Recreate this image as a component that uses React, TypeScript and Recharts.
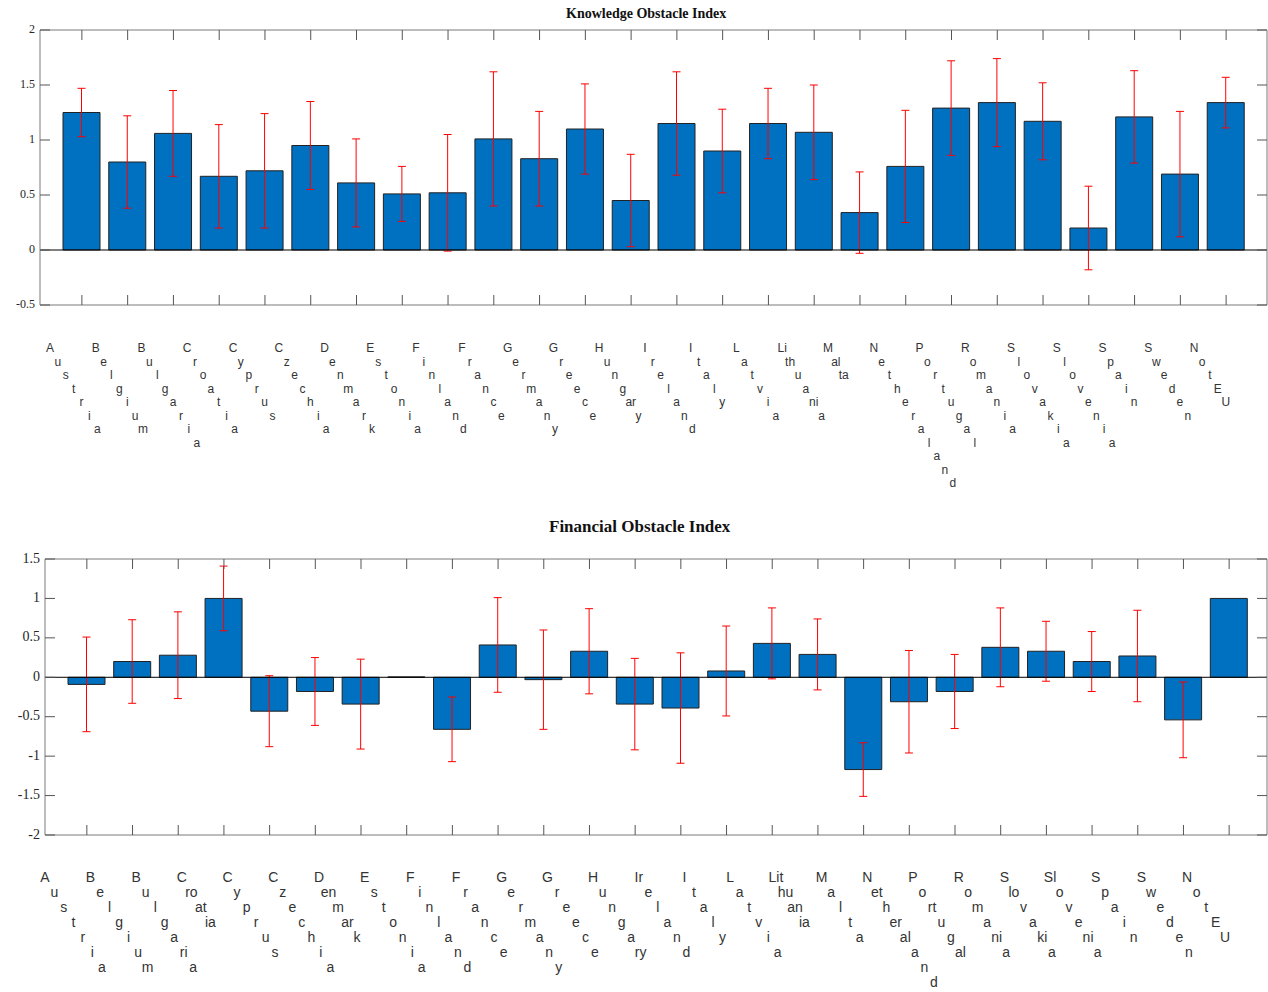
import React from 'react';
import { ComposedChart, Bar, ErrorBar, XAxis, YAxis, ReferenceLine } from 'recharts';

const countries = [
  'Austria', 'Belgium', 'Bulgaria', 'Croatia', 'Cyprus', 'Czechia', 'Denmark', 'Estonia',
  'Finland', 'France', 'Germany', 'Greece', 'Hungary', 'Ireland', 'Italy', 'Latvia',
  'Lithuania', 'Malta', 'Netheraland', 'Portugal', 'Romania', 'Slovakia', 'Slovenia',
  'Spain', 'Sweden', 'NotEU',
];

// how the country names break into diagonal rows in each panel
const knowledgeLabelRows = [
  'A u s t r i a', 'B e l g i u m', 'B u l g a r i a', 'C r o a t i a', 'C y p r u s',
  'C z e c h i a', 'D e n m a r k', 'E s t o n i a', 'F i n l a n d', 'F r a n c e',
  'G e r m a n y', 'G r e e c e', 'H u n g ar y', 'I r e l a n d', 'I t a l y', 'L a t v i a',
  'Li th u a ni a', 'M al ta', 'N e t h e r a l a n d', 'P o r t u g a l', 'R o m a n i a',
  'S l o v a k i a', 'S l o v e n i a', 'S p a i n', 'S w e d e n', 'N o t E U',
];
const financialLabelRows = [
  'A u s t r i a', 'B e l g i u m', 'B u l g a ri a', 'C ro at ia', 'C y p r u s',
  'C z e c h i a', 'D en m ar k', 'E s t o n i a', 'F i n l a n d', 'F r a n c e',
  'G e r m a n y', 'G r e e c e', 'H u n g a ry', 'Ir e l a n d', 'I t a l y', 'L a t v i a',
  'Lit hu an ia', 'M a l t a', 'N et h er al a n d', 'P o rt u g al', 'R o m a ni a',
  'S lo v a ki a', 'Sl o v e ni a', 'S p a i n', 'S w e d e n', 'N o t E U',
];

const knowledgeValues = [
  1.25, 0.8, 1.06, 0.67, 0.72, 0.95, 0.61, 0.51, 0.52, 1.01, 0.83, 1.1, 0.45,
  1.15, 0.9, 1.15, 1.07, 0.34, 0.76, 1.29, 1.34, 1.17, 0.2, 1.21, 0.69, 1.34,
];
const knowledgeErrors = [
  0.22, 0.42, 0.39, 0.47, 0.52, 0.4, 0.4, 0.25, 0.53, 0.61, 0.43, 0.41, 0.42,
  0.47, 0.38, 0.32, 0.43, 0.37, 0.51, 0.43, 0.4, 0.35, 0.38, 0.42, 0.57, 0.23,
];

const financialValues = [
  -0.09, 0.2, 0.28, 1.0, -0.43, -0.18, -0.34, 0.005, -0.66, 0.41, -0.03, 0.33, -0.34,
  -0.39, 0.08, 0.43, 0.29, -1.17, -0.31, -0.18, 0.38, 0.33, 0.2, 0.27, -0.54, 1.0,
];
const financialErrors = [
  0.6, 0.53, 0.55, 0.41, 0.45, 0.43, 0.57, 0.0, 0.41, 0.6, 0.63, 0.54, 0.58,
  0.7, 0.57, 0.45, 0.45, 0.34, 0.65, 0.47, 0.5, 0.38, 0.38, 0.58, 0.48, 0.0,
];

const knowledgeTicks = [-0.5, 0, 0.5, 1, 1.5, 2];
const financialTicks = [-2, -1.5, -1, -0.5, 0, 0.5, 1, 1.5];

const knowledgeData = countries.map((name, i) => ({
  name,
  rows: knowledgeLabelRows[i],
  value: knowledgeValues[i],
  err: knowledgeErrors[i],
}));
const financialData = countries.map((name, i) => ({
  name,
  rows: financialLabelRows[i],
  value: financialValues[i],
  err: financialErrors[i],
}));

const FRAME = '#7a7a7a';
const TICK = '#555';

// diagonal country label (one row per chunk) plus an inward tick mark
function makeXTick(
  data: any[],
  cfg: { startX: number; startY: number; dx: number; dy: number; fontSize: number }
) {
  return (props: any) => {
    const { x, y, payload, index } = props;
    const row = data[index];
    const chunks = (row ? row.rows : String(payload.value)).split(' ');
    return (
      <g>
        <line x1={x} y1={y} x2={x} y2={y - 10} stroke={TICK} strokeWidth={1} />
        {chunks.map((c: string, i: number) => (
          <text
            key={i}
            x={x + cfg.startX + i * cfg.dx}
            y={y + cfg.startY + i * cfg.dy}
            textAnchor="middle"
            dominantBaseline="central"
            fontFamily="'Liberation Sans', Arial, sans-serif"
            fontSize={cfg.fontSize}
            fill="#333"
          >
            {c}
          </text>
        ))}
      </g>
    );
  };
}

const TopTick = (props: any) => {
  const { x, y } = props;
  return <line x1={x} y1={y} x2={x} y2={y + 10} stroke={TICK} strokeWidth={1} />;
};

function makeYTick(fontSize: number) {
  return (props: any) => {
    const { x, y, payload } = props;
    return (
      <g>
        <line x1={x} y1={y} x2={x + 10} y2={y} stroke={TICK} strokeWidth={1} />
        <text
          x={x - 5}
          y={y - 1}
          textAnchor="end"
          dominantBaseline="central"
          fontFamily="'Liberation Serif', 'Times New Roman', serif"
          fontSize={fontSize}
          fill="#262626"
        >
          {payload.value}
        </text>
      </g>
    );
  };
}

const RightTick = (props: any) => {
  const { x, y } = props;
  return <line x1={x} y1={y} x2={x - 10} y2={y} stroke={TICK} strokeWidth={1} />;
};

function Panel(props: {
  data: any[];
  ticks: number[];
  domain: [number, number];
  height: number;
  top: number;
  left: number;
  bottomAxis: number;
  padding: { left: number; right: number };
  yFont: number;
  label: { startX: number; startY: number; dx: number; dy: number; fontSize: number };
}) {
  const XTick = makeXTick(props.data, props.label);
  const YTick = makeYTick(props.yFont);
  return (
    <ComposedChart
      width={1268}
      height={props.height}
      data={props.data}
      margin={{ top: props.top - 1, right: 0, left: 0, bottom: 0 }}
    >
      <XAxis
        dataKey="name"
        interval={0}
        padding={props.padding}
        height={props.bottomAxis}
        tickLine={false}
        tickSize={0}
        tickMargin={0}
        tick={<XTick />}
        axisLine={{ stroke: FRAME }}
      />
      <XAxis
        xAxisId="top"
        orientation="top"
        dataKey="name"
        interval={0}
        padding={props.padding}
        height={1}
        tickLine={false}
        tickSize={0}
        tickMargin={0}
        tick={<TopTick />}
        axisLine={{ stroke: FRAME }}
      />
      <YAxis
        domain={props.domain}
        ticks={props.ticks}
        width={props.left}
        allowDataOverflow
        tickLine={false}
        tickSize={0}
        tickMargin={0}
        tick={<YTick />}
        axisLine={{ stroke: FRAME }}
      />
      <YAxis
        yAxisId="right"
        orientation="right"
        domain={props.domain}
        ticks={props.ticks}
        width={1}
        allowDataOverflow
        tickLine={false}
        tickSize={0}
        tickMargin={0}
        tick={<RightTick />}
        axisLine={{ stroke: FRAME }}
      />
      <Bar dataKey="value" barSize={37} fill="#0070C0" stroke="#222" strokeWidth={1} isAnimationActive={false}>
        <ErrorBar dataKey="err" direction="y" width={4} stroke="#FF0000" strokeWidth={1} isAnimationActive={false} />
      </Bar>
      <ReferenceLine y={0} stroke="#000" strokeWidth={1} />
    </ComposedChart>
  );
}

const titleStyle: React.CSSProperties = {
  position: 'absolute',
  left: 0,
  width: 1268,
  fontFamily: "'Liberation Serif', 'Times New Roman', serif",
  fontWeight: 'bold',
  color: '#111',
  whiteSpace: 'nowrap',
};

export default function App() {
  return (
    <div style={{ position: 'absolute', left: 0, top: 0, width: 1268, height: 992, background: '#fff', overflow: 'hidden' }}>
      <div style={{ ...titleStyle, top: 6, fontSize: 14, textAlign: 'left', paddingLeft: 566 }}>Knowledge Obstacle Index</div>
      <div style={{ position: 'absolute', left: 0, top: 0 }}>
        <Panel
          data={knowledgeData}
          ticks={knowledgeTicks}
          domain={[-0.5, 2]}
          height={500}
          top={30}
          left={40}
          bottomAxis={195}
          padding={{ left: 19, right: 18 }}
          yFont={12}
          label={{ startX: -32, startY: 43, dx: 7.9, dy: 13.5, fontSize: 12 }}
        />
      </div>
      <div style={{ ...titleStyle, top: 517, fontSize: 17, textAlign: 'left', paddingLeft: 549 }}>Financial Obstacle Index</div>
      <div style={{ position: 'absolute', left: 0, top: 500 }}>
        <Panel
          data={financialData}
          ticks={financialTicks}
          domain={[-2, 1.5]}
          height={492}
          top={59}
          left={45}
          bottomAxis={157}
          padding={{ left: 19, right: 15 }}
          yFont={14}
          label={{ startX: -42, startY: 42, dx: 9.5, dy: 15, fontSize: 14 }}
        />
      </div>
    </div>
  );
}
